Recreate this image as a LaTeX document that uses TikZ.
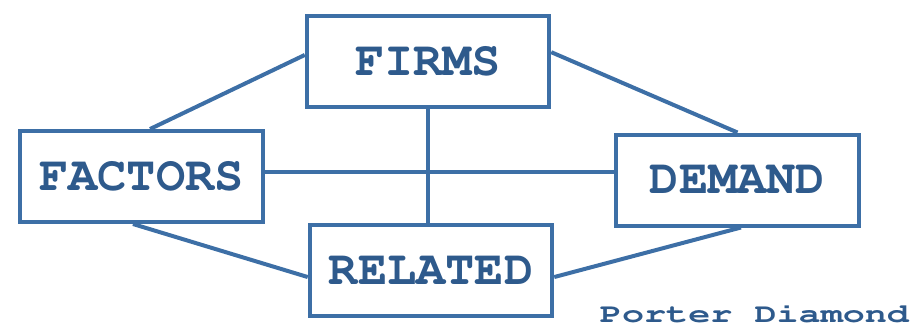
\documentclass[tikz,border=0pt]{standalone}
\usepackage[T1]{fontenc}
\newcommand\courfont{\fontencoding{T1}\fontfamily{pcr}\bfseries}
\definecolor{porterline}{HTML}{3D6FA6}
\definecolor{portertext}{HTML}{2E5A8C}
\begin{document}
\begin{tikzpicture}[x=0.75pt,y=-0.75pt,
	factor/.style={draw=porterline,line width=3pt,fill=white,inner sep=0pt,
		minimum width=242.5*0.75pt,minimum height=91*0.75pt,
		text=portertext,font=\courfont\fontsize{36.5}{40}\selectfont},
	link/.style={draw=porterline,line width=3pt}]
	\useasboundingbox (0,0) rectangle (912,330);
	\node[factor] (firms) at (428,61.5) {FIRMS};
	\node[factor] (factors) at (141.5,176.5) {FACTORS};
	\node[factor] (demand) at (737.5,180) {DEMAND};
	\node[factor] (related) at (431,270.5) {RELATED};
	\node[text=portertext,font=\courfont\fontsize{20}{22}\selectfont] (caption) at (754.5,314) {\scalebox{1.38}[1]{Porter Diamond}};
	% the six links of the diamond
	\coordinate (midleft) at ([yshift=3.4pt]factors.east);
	\draw[link] ([yshift=4.9pt]firms.west)--([xshift=6.4pt]factors.north);
	\draw[link] ([yshift=7pt]firms.east)--(demand.north);
	\draw[link] ([xshift=-6.4pt]factors.south)--([yshift=-4.9pt]related.west);
	\draw[link] ([yshift=-4.9pt]related.east)--([xshift=2.6pt]demand.south);
	\draw[link] (midleft)--(demand.west |- midleft);
	\draw[link] (firms.south)--(firms.south |- related.north);
\end{tikzpicture}
\end{document}
